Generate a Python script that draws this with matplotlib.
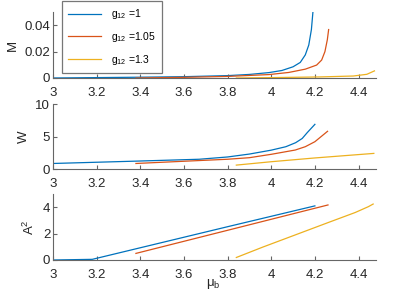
import matplotlib
matplotlib.use("Agg")
import matplotlib.pyplot as plt
from matplotlib.ticker import FormatStrFormatter

plt.rcParams['font.family'] = ['Liberation Sans', 'DejaVu Sans']
plt.rcParams['mathtext.fontset'] = 'custom'
plt.rcParams['mathtext.rm'] = 'Liberation Sans'
plt.rcParams['mathtext.it'] = 'Liberation Sans:italic'
plt.rcParams['font.size'] = 9

labels = ['g$_{\\mathrm{12}}$ =1', 'g$_{\\mathrm{12}}$ =1.05', 'g$_{\\mathrm{12}}$ =1.3']
colors = ['#0072BD', '#D95319', '#EDB120']

# M panel
mu1_M = [3.0, 3.2, 3.4, 3.6, 3.8, 3.9, 3.99, 4.049, 4.10, 4.133, 4.156, 4.172, 4.184, 4.191]
M1 = [0.0, 0.0003, 0.0006, 0.001, 0.0018, 0.0027, 0.0041, 0.0057, 0.0085, 0.0118, 0.0175, 0.025, 0.0367, 0.050]
mu2_M = [3.38, 3.6, 3.8, 3.99, 4.08, 4.156, 4.208, 4.231, 4.246, 4.257, 4.263]
M2 = [0.0, 0.0005, 0.0012, 0.0026, 0.0042, 0.0067, 0.0098, 0.0136, 0.020, 0.029, 0.0367]
mu3_M = [3.84, 4.0, 4.22, 4.376, 4.438, 4.473]
M3 = [0.0, 0.0003, 0.0008, 0.0015, 0.0028, 0.0054]

# W panel
mu1_W = [3.0, 3.37, 3.67, 3.8, 3.9, 4.0, 4.067, 4.112, 4.142, 4.165, 4.2]
W1 = [0.85, 1.2, 1.5, 1.85, 2.3, 2.9, 3.43, 4.05, 4.7, 5.6, 6.87]
mu2_W = [3.38, 3.67, 3.8, 3.9, 4.0, 4.11, 4.156, 4.2, 4.258]
W2 = [0.85, 1.3, 1.5, 1.74, 2.26, 2.92, 3.43, 4.2, 5.8]
mu3_W = [3.84, 4.0, 4.2, 4.47]
W3 = [0.6, 1.12, 1.7, 2.4]

# A^2 panel
mu1_A = [3.0, 3.18, 3.807, 4.2]
A1 = [0.0, 0.05, 2.55, 4.1]
mu2_A = [3.38, 3.807, 4.26]
A2 = [0.5, 2.28, 4.17]
mu3_A = [3.84, 3.96, 4.11, 4.263, 4.385, 4.445, 4.467]
A3 = [0.19, 0.97, 1.9, 2.85, 3.6, 4.04, 4.24]

x_ticks = [3, 3.2, 3.4, 3.6, 3.8, 4, 4.2, 4.4]

fig = plt.figure(figsize=(4.15, 2.91), dpi=100)
left, width = 53 / 415, 323 / 415
ax1 = fig.add_axes([left, 1 - 78 / 291, width, 66 / 291])
ax2 = fig.add_axes([left, 1 - 169 / 291, width, 65 / 291])
ax3 = fig.add_axes([left, 1 - 260 / 291, width, 66 / 291])

series = [
    (ax1, [(mu1_M, M1), (mu2_M, M2), (mu3_M, M3)], [0, 0.05], [0, 0.02, 0.04], 'M'),
    (ax2, [(mu1_W, W1), (mu2_W, W2), (mu3_W, W3)], [0, 10], [0, 5, 10], 'W'),
    (ax3, [(mu1_A, A1), (mu2_A, A2), (mu3_A, A3)], [0, 5], [0, 2, 4], 'A$^2$'),
]

for ax, curves, ylim, yticks, ylab in series:
    for (x, y), c, lab in zip(curves, colors, labels):
        ax.plot(x, y, color=c, lw=0.9, label=lab)
    ax.set_xlim(3, 4.48)
    ax.set_ylim(*ylim)
    ax.set_xticks(x_ticks)
    ax.set_yticks(yticks)
    ax.xaxis.set_major_formatter(FormatStrFormatter('%g'))
    ax.yaxis.set_major_formatter(FormatStrFormatter('%g'))
    ax.set_ylabel(ylab, color='#262626', fontsize=9.5)
    for s in ['top', 'right']:
        ax.spines[s].set_visible(False)
    for s in ['left', 'bottom']:
        ax.spines[s].set_color('#666666')
        ax.spines[s].set_linewidth(0.8)
    ax.tick_params(direction='in', length=3, width=0.8, color='#666666',
                   labelcolor='#262626', labelsize=9.5)
    ax.tick_params(axis='x', pad=6.5)
    ax.tick_params(axis='y', pad=2)

ax3.set_xlabel('μ$_{\\mathrm{b}}$', color='#262626', fontsize=9.5)
ax3.xaxis.set_label_coords(0.495, -0.26)

handles, labs = ax1.get_legend_handles_labels()
leg = fig.legend(handles, labs, loc='upper left', bbox_to_anchor=(62 / 415, 1 - 1 / 291),
                 borderaxespad=0, fancybox=False, framealpha=1, edgecolor='#777777',
                 handlelength=3.1, handletextpad=1.0, labelspacing=0.85, fontsize=7.5,
                 borderpad=0.6)
leg.get_frame().set_linewidth(0.9)

fig.savefig('out.png', dpi=100)
